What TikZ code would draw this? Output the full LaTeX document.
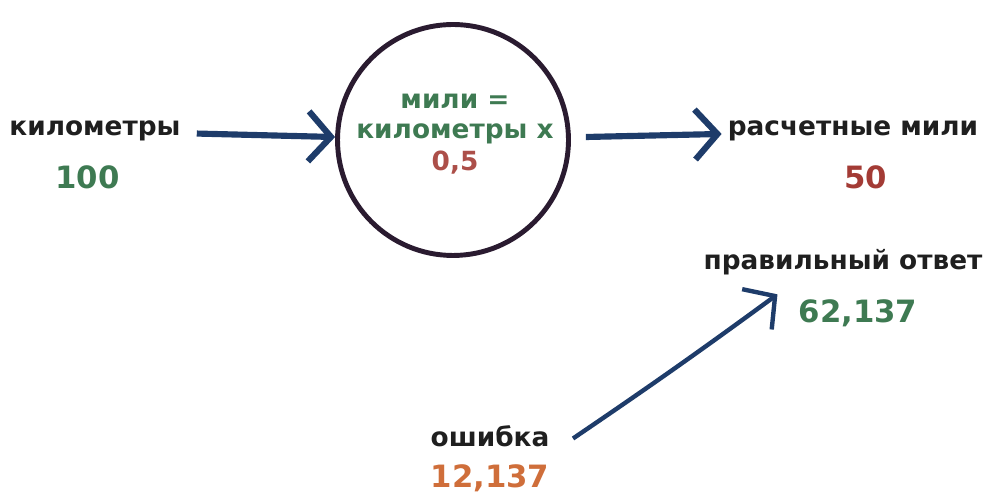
\documentclass[tikz,border=0pt]{standalone}
\usepackage{fontspec}
\setmainfont{DejaVu Sans}
\usetikzlibrary{arrows.meta, positioning}
\definecolor{inkblue}{HTML}{1E3C6A}
\definecolor{ringink}{HTML}{2A1B30}
\definecolor{numgreen}{HTML}{3E7A52}
\definecolor{numred}{HTML}{A33B35}
\definecolor{numorange}{HTML}{CF6E3A}
\begin{document}
\begin{tikzpicture}[x=0.02cm, y=-0.02cm, node distance=.25cm,
	lbl/.style={font=\fontsize{15}{17}\selectfont\bfseries, text=black!88},
	val/.style={font=\fontsize{17.5}{20}\selectfont\bfseries},
	ink/.style={draw=inkblue, line width=3.5pt, -{Straight Barb[length=4.5mm,width=10mm]}}]
		\useasboundingbox (0,0) rectangle (990,502);
		\node[lbl] (km) at (95,131) {километры};
		\node[val, text=numgreen, below = of km, xshift=-.15cm] (kmval) {100};
		\node[draw=ringink, circle, line width=2.8pt, minimum size=4.62cm] (mill) at (453,140) {};
		\node[lbl, text=numgreen, align=center] (formula) at (455,134) {мили =\\километры x\\[1pt]\textcolor{numred!90}{0,5}};
		\node[lbl] (est) at (853,131) {расчетные мили};
		\node[val, text=numred, below = of est, xshift=.25cm] (estval) {50};
		\node[lbl] (correct) at (843,262) {правильный ответ};
		\node[val, text=numgreen, below = of correct, xshift=.3cm] (correctval) {62,137};
		\node[lbl] (err) at (490,436) {ошибка};
		\node[val, text=numorange, below = .12cm of err] (errval) {12,137};
		
		\draw[ink, shorten <=.2cm] (km) -- (mill);
		\draw[ink, shorten <=.3cm] (mill) -- (est);
		\draw[ink, line width=2.5pt] ([xshift=.35cm,yshift=-.05cm]err.east) to[bend right=1] ([shift={(-15,-19)}]correctval.west);
		
\end{tikzpicture}
\end{document}
